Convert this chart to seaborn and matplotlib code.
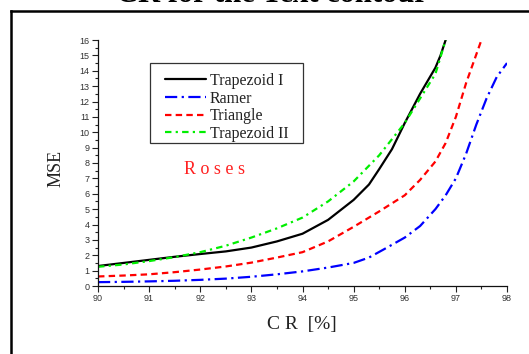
import matplotlib
matplotlib.use("Agg")
import matplotlib.pyplot as plt
from matplotlib.lines import Line2D
from matplotlib.patches import Rectangle
from matplotlib.ticker import MultipleLocator
import pandas as pd
import seaborn as sns

# Compression ratio (%) vs. mean squared error for each approximation method
trap1_cr = [90, 90.5, 91, 91.5, 92, 92.5, 93, 93.5, 94, 94.5, 95, 95.3, 95.5, 95.75, 96, 96.3, 96.6, 96.7, 96.8]
trap1_mse = [1.3, 1.5, 1.7, 1.9, 2.08, 2.25, 2.5, 2.9, 3.4, 4.3, 5.6, 6.6, 7.6, 8.9, 10.6, 12.5, 14.2, 15.0, 16.0]

ramer_cr = [90, 90.5, 91, 91.5, 92, 92.5, 93, 93.5, 94, 94.5, 95, 95.3, 95.6, 96, 96.3, 96.6, 96.8, 97, 97.2, 97.4, 97.6, 97.8, 98]
ramer_mse = [0.25, 0.27, 0.3, 0.34, 0.4, 0.48, 0.6, 0.76, 0.95, 1.2, 1.5, 1.85, 2.4, 3.15, 3.9, 5.0, 5.9, 7.0, 8.6, 10.5, 12.2, 13.6, 14.5]

tri_cr = [90, 90.5, 91, 91.5, 92, 92.5, 93, 93.5, 94, 94.5, 95, 95.5, 96, 96.3, 96.6, 96.8, 97, 97.2, 97.5]
tri_mse = [0.62, 0.68, 0.76, 0.9, 1.07, 1.27, 1.52, 1.85, 2.2, 2.9, 3.85, 4.85, 5.9, 6.9, 8.1, 9.3, 11.0, 13.2, 16.0]

trap2_cr = [90, 90.5, 91, 91.5, 92, 92.5, 93, 93.5, 94, 94.5, 95, 95.5, 96, 96.3, 96.6, 96.8]
trap2_mse = [1.25, 1.4, 1.62, 1.88, 2.2, 2.62, 3.15, 3.75, 4.45, 5.5, 6.8, 8.5, 10.6, 12.2, 13.8, 16.0]

methods = ["Trapezoid I", "Ramer", "Triangle", "Trapezoid II"]
colors = ["#000000", "#0000ff", "#ff0000", "#00ee00"]
dashes = [None, (5.5, 2.0, 1.0, 2.0), (2.9, 1.9), (2.9, 1.9, 1.0, 1.9)]

x_ticks = list(range(90, 99))
y_ticks = list(range(0, 17))

sns.set_style("ticks")
plt.rcParams["font.family"] = ["Liberation Serif", "DejaVu Serif"]
plt.rcParams["xtick.direction"] = "out"
plt.rcParams["ytick.direction"] = "out"

fig = plt.figure(figsize=(5.29, 3.54), dpi=100)
fig.patch.set_facecolor("white")
ax = fig.add_axes([98 / 529, 1 - 286 / 354, 409 / 529, 246 / 354])

series = [(trap1_cr, trap1_mse), (ramer_cr, ramer_mse), (tri_cr, tri_mse), (trap2_cr, trap2_mse)]
for (cr, mse), name, col, dsh in zip(series, methods, colors, dashes):
    df = pd.DataFrame({"CR": cr, "MSE": mse})
    sns.lineplot(data=df, x="CR", y="MSE", ax=ax, color=col, linewidth=1.6,
                 label=name, estimator=None, sort=False)
    ln = ax.get_lines()[-1]
    if dsh is not None:
        ln.set_dashes(dsh)

ax.set_xlim(90, 98)
ax.set_ylim(0, 16)
ax.set_xticks(x_ticks)
ax.set_yticks(y_ticks)
ax.xaxis.set_minor_locator(MultipleLocator(0.5))
ax.yaxis.set_minor_locator(MultipleLocator(0.5))
ax.tick_params(axis="both", which="major", length=4, width=0.8, color="#222222",
               labelsize=6.5, labelcolor="#333333", pad=2)
ax.tick_params(axis="both", which="minor", length=2, width=0.8, color="#222222")
for lab in ax.get_xticklabels() + ax.get_yticklabels():
    lab.set_family(["Liberation Sans", "DejaVu Sans"])
sns.despine(ax=ax)
for sp in ("left", "bottom"):
    ax.spines[sp].set_linewidth(0.9)
    ax.spines[sp].set_color("#111111")
ax.set_xlabel("")
ax.set_ylabel("")

# legend entries without their own frame, boxed by a separate rectangle
leg = ax.legend(loc="upper left", bbox_to_anchor=(0.164, 0.866), fontsize=11.5,
                frameon=False, handlelength=2.55, handletextpad=0.25,
                labelspacing=0.1, borderpad=0.0, borderaxespad=0)
for t in leg.get_texts():
    t.set_color("#222222")
ax.add_patch(Rectangle((0.127, 0.581), 0.374, 0.325, transform=ax.transAxes,
                       facecolor="none", edgecolor="#333333", linewidth=0.9, zorder=5))

ax.text(0.286, 0.475, "R o s e s", transform=ax.transAxes, color="#ff2020",
        fontsize=13, ha="center", va="center")

fig.text(302 / 529, 1 - 324 / 354, "C R  [%]", ha="center", va="center",
         fontsize=14, color="#222222")
fig.text(56 / 529, 1 - 168 / 354, "MSE", ha="center", va="center", rotation=90,
         fontsize=13, color="#222222")
fig.text(272 / 529, 1 - 2.0 / 354, "CR for the Text contour", ha="center",
         va="baseline", fontsize=22, fontweight="bold", color="black")

# frame around the figure panel
fig.add_artist(Line2D([0.0202, 0.0202], [-0.1, 0.9684], transform=fig.transFigure,
                      color="black", linewidth=1.8, solid_capstyle="projecting"))
fig.add_artist(Line2D([0.0202, 1.1], [0.9684, 0.9684], transform=fig.transFigure,
                      color="black", linewidth=1.8, solid_capstyle="projecting"))

fig.savefig("out.png", dpi=100)
